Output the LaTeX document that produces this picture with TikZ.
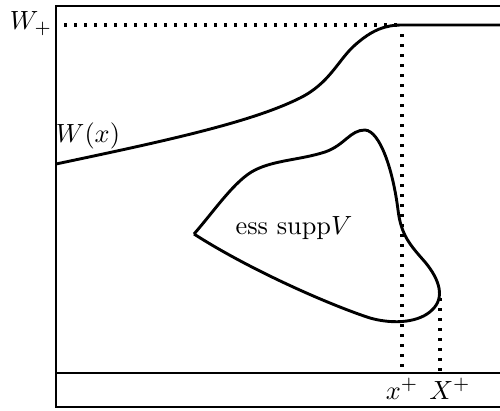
\documentclass[tikz,border=0pt]{standalone}
\begin{document}
\begin{tikzpicture}[x=0.38pt,y=-0.38pt,
  solidline/.style={line width=1.1pt},
  dotline/.style={line width=1.2pt,dash pattern=on 1.1pt off 2.7pt},
  lbl/.style={inner sep=0pt,font=\fontsize{10}{12}\selectfont}]
\useasboundingbox (0,0) rectangle (500,410);
% frame
\coordinate (tl) at (56,6);
\coordinate (tr) at (500,6);
\coordinate (bl) at (56,407);
\coordinate (br) at (500,407);
\coordinate (al) at (56,373);
\coordinate (ar) at (500,373);
\draw[solidline] (tr) -- (tl) -- (bl) -- (br);
\draw[solidline] (al) -- (ar);
% W curve
\coordinate (wstart) at (56,164);
\coordinate (wtop) at (402,25);
\coordinate (wend) at (500,25);
\draw[solidline] (wstart) .. controls (160,142) and (250,123) .. (300,98)
  .. controls (330,83) and (338,60) .. (355,45)
  .. controls (372,30) and (385,25) .. (wtop) -- (wend);
% W+ dotted
\coordinate (wpl) at (64,25);
\draw[dotline] (wpl) -- (wtop);
% blob
\coordinate (bv) at (194,234);
\draw[solidline] (bv) .. controls (215,210) and (235,180) .. (255,170)
  .. controls (275,160) and (300,160) .. (325,152)
  .. controls (345,145) and (350,130) .. (365,130)
  .. controls (380,131) and (393,170) .. (398,210)
  .. controls (401,235) and (410,245) .. (425,262)
  .. controls (440,280) and (445,298) .. (432,310)
  .. controls (420,322) and (395,325) .. (370,318)
  .. controls (330,305) and (250,270) .. (bv);
% vertical dotted
\coordinate (xp) at (402,373);
\coordinate (Xtop) at (440,298);
\coordinate (Xp) at (440,373);
\coordinate (xtop) at (402,34);
\draw[dotline] (xtop) -- (xp);
\draw[dotline] (Xtop) -- (Xp);
% labels
\node[lbl] (Wplus) at (31,24) {$W_+$};
\node[lbl] (Wx) at (88,136) {$W(x)$};
\node[lbl] (supp) at (294,228) {ess supp$V$};
\node[lbl] (xplus) at (402,389) {$x^+$};
\node[lbl] (Xplus) at (450,389) {$X^+$};
\end{tikzpicture}
\end{document}
